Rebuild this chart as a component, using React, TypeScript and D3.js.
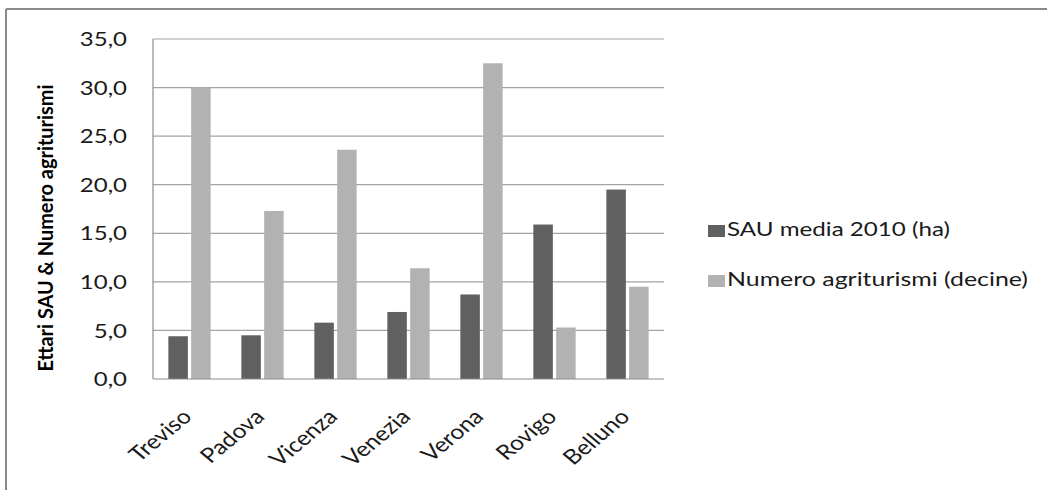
import React from 'react';
import * as d3 from 'd3';

// data
const categories = ['Treviso', 'Padova', 'Vicenza', 'Venezia', 'Verona', 'Rovigo', 'Belluno'];
const sauMedia = [4.4, 4.5, 5.8, 6.9, 8.7, 15.9, 19.5];
const agriturismi = [30.0, 17.3, 23.6, 11.4, 32.5, 5.3, 9.5];
const seriesNames = ['SAU media 2010 (ha)', 'Numero agriturismi (decine)'];
const yTicks = [0, 5, 10, 15, 20, 25, 30, 35];
const yTitle = 'Ettari SAU & Numero agriturismi';

const W = 1047;
const H = 490;
const plot = { left: 153, right: 664, top: 39, bottom: 379 };
const SX = 1.2; // the picture is stretched sideways a bit
const FONT = "Lato, 'Open Sans', sans-serif";
const colors = ['#606060', '#b2b2b2'];

const App = () => {
  const x = d3.scaleBand<string>().domain(categories).range([plot.left, plot.right]);
  const xs = d3.scaleBand<string>().domain(seriesNames).range([-21.15, 21.15]).paddingInner(0.145);
  const y = d3.scaleLinear().domain([0, 35]).range([plot.bottom, plot.top]);
  const fmt = (v: number) => d3.format('.1f')(v).replace('.', ',');
  const series = [sauMedia, agriturismi];

  // legend rows
  const legendRows = [
    { y: 225, len: 223 },
    { y: 275, len: 301 },
  ];

  return (
    <svg width={W} height={H} style={{ position: 'absolute', left: 0, top: 0, background: '#fff' }}
      fontFamily={FONT}>
      {/* outer frame, only top and left edges are in the crop */}
      <line x1={6} x2={W} y1={9} y2={9} stroke="#8a8a8a" strokeWidth={2} />
      <line x1={6} x2={6} y1={9} y2={H} stroke="#8a8a8a" strokeWidth={2} />

      {/* gridlines */}
      {yTicks.filter(t => t > 0).map(t => (
        <line key={t} x1={plot.left} x2={plot.right} y1={y(t)} y2={y(t)} stroke="#a3a3a3" strokeWidth={1.2} />
      ))}

      {/* bars */}
      {series.map((vals, si) => (
        <g key={si} fill={colors[si]}>
          {categories.map((c, i) => (
            <rect key={c}
              x={(x(c) as number) + x.bandwidth() / 2 + (xs(seriesNames[si]) as number)}
              y={y(vals[i])}
              width={xs.bandwidth()}
              height={y(0) - y(vals[i])} />
          ))}
        </g>
      ))}

      {/* axes */}
      <line x1={plot.left} x2={plot.left} y1={plot.top} y2={plot.bottom} stroke="#8c8c8c" strokeWidth={1.2} />
      <line x1={plot.left} x2={plot.right} y1={plot.bottom} y2={plot.bottom} stroke="#8c8c8c" strokeWidth={1.2} />

      {/* y tick labels */}
      {yTicks.map(t => (
        <g key={t} transform={`translate(127,${y(t)}) scale(${SX},1)`}>
          <text textAnchor="end" dy="0.36em" fontSize={20} fill="#1a1a1a">{fmt(t)}</text>
        </g>
      ))}

      {/* y axis title */}
      <g transform={`translate(53,228) scale(${SX},1) rotate(-90)`}>
        <text textAnchor="middle" fontSize={17.5} fontWeight="bold" fill="#000"
          textLength={287} lengthAdjust="spacingAndGlyphs">{yTitle}</text>
      </g>

      {/* category labels */}
      {categories.map(c => (
        <g key={c} transform={`translate(${(x(c) as number) + x.bandwidth() / 2 + 3.5},418) scale(${SX},1) rotate(-45)`}>
          <text textAnchor="end" fontSize={20.5} fill="#1a1a1a">{c}</text>
        </g>
      ))}

      {/* legend */}
      {seriesNames.map((s, i) => (
        <g key={s}>
          <rect x={708} y={legendRows[i].y} width={17} height={12} fill={colors[i]} />
          <text x={727} y={legendRows[i].y + 11} fontSize={19.5} fill="#1a1a1a"
            textLength={legendRows[i].len} lengthAdjust="spacingAndGlyphs">{s}</text>
        </g>
      ))}
    </svg>
  );
};

export default App;
